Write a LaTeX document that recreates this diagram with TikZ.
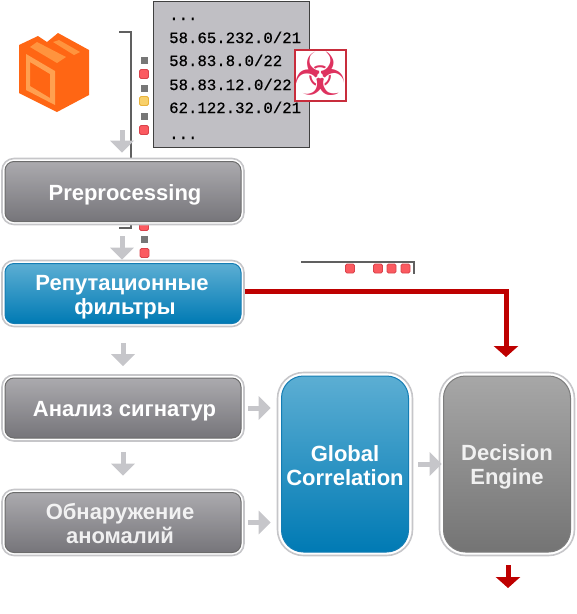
\documentclass[tikz,border=0pt]{standalone}
\usepackage{fontspec}
\setmainfont{Liberation Sans}
\newfontfamily\mymono[FakeBold=0.5]{Liberation Mono}
\newfontfamily\symfont{DejaVu Sans}
\usetikzlibrary{arrows.meta}
\definecolor{boxedge}{HTML}{C6C6C9}
\definecolor{darkred}{HTML}{BE0000}
\definecolor{arrowgray}{HTML}{C6C6CA}
\definecolor{listfill}{HTML}{C0BFC4}
\definecolor{sqred}{HTML}{FB5A60}
\definecolor{sqredb}{HTML}{D9434C}
\definecolor{sqyel}{HTML}{F8D06A}
\definecolor{sqyelb}{HTML}{E8B23C}
\definecolor{sqgray}{HTML}{777777}
\definecolor{cubebody}{HTML}{FF6614}
\definecolor{cubelid}{HTML}{FF943E}
\definecolor{cubepanel}{HTML}{FFA050}
\tikzset{
 outerbox/.style={draw=boxedge,fill=white,line width=1.6pt,rounded corners=#1,inner sep=0pt},
 outerbox/.default=12pt,
 label text/.style={text=white,font=\bfseries\fontsize{22}{24}\selectfont,align=center,inner sep=0pt},
 smallbox/.style={minimum width=236pt,minimum height=60pt,rounded corners=9pt,inner sep=0pt,line width=1pt},
 tallbox/.style={minimum width=127pt,minimum height=176pt,rounded corners=22pt,inner sep=0pt,line width=1pt},
 graybox/.style={smallbox,draw=gray!85!black,top color={rgb,255:red,171;green,170;blue,174},bottom color={rgb,255:red,118;green,117;blue,122}},
 bluebox/.style={draw={rgb,255:red,20;green,125;blue,180},top color={rgb,255:red,92;green,174;blue,211},bottom color={rgb,255:red,0;green,122;blue,180}},
 decibox/.style={draw={rgb,255:red,125;green,125;blue,125},top color={rgb,255:red,167;green,167;blue,167},bottom color={rgb,255:red,116;green,116;blue,116}},
 grayarrow/.style={draw=arrowgray,line width=5pt,-{Triangle[width=23pt,length=12pt]}},
 redarrow/.style={draw=darkred,line width=5pt,-{Triangle[width=24pt,length=11pt]}},
 pale/.style={text opacity=0.88},
 bracket/.style={draw=gray!75!black,line width=1.2pt},
 dotgray/.style={fill=sqgray,minimum size=7pt,inner sep=0pt},
 dotred/.style={draw=sqredb,fill=sqred,minimum size=9pt,inner sep=0pt,rounded corners=1.5pt,line width=0.8pt},
 dotyel/.style={draw=sqyelb,fill=sqyel,minimum size=9pt,inner sep=0pt,rounded corners=1.5pt,line width=0.8pt},
 listline/.style={font=\mymono\fontsize{15.7}{18}\selectfont,anchor=base west,inner sep=0pt},
}
\begin{document}
\begin{tikzpicture}[x=1pt,y=-1pt]
\useasboundingbox (0,0) rectangle (577,614);
% cube icon
\fill[cubebody] (19,45) -- (38,36) -- (47,42) -- (58,33) -- (89,50) -- (89,95) -- (57,112) -- (19,93) -- cycle;
\fill[cubelid] (30,47) -- (37,42) -- (66,57) -- (57,63) -- cycle;
\fill[cubelid] (53,42) -- (59,40) -- (80,52) -- (74,55) -- cycle;
\fill[cubepanel,even odd rule] (26,54) -- (55,71) -- (55,105) -- (26,90) -- cycle (30,62) -- (50,74) -- (50,98) -- (30,86) -- cycle;
% bracket behind the first box
\coordinate (brtop) at (119,32);
\coordinate (brcorner) at (131,32);
\coordinate (brbot) at (131,228);
\coordinate (brend) at (119,228);
\draw[bracket] (brtop) -- (brcorner) -- (brbot) -- (brend);
% address list
\node[draw=black!75,fill=listfill,line width=1pt,minimum width=156pt,minimum height=146pt,inner sep=0pt] (list) at (231.5,74) {};
\node[listline] (l0) at (169,20) {...};
\node[listline] (l1) at (169,43) {58.65.232.0/21};
\node[listline] (l2) at (169,66) {58.83.8.0/22};
\node[listline] (l3) at (169,90) {58.83.12.0/22};
\node[listline] (l4) at (169,113) {62.122.32.0/21};
\node[listline] (l5) at (169,139) {...};
% biohazard
\node[draw={rgb,255:red,200;green,45;blue,60},fill=white,line width=2pt,minimum size=51pt,inner sep=0pt] (bio) at (320,75) {};
\node[inner sep=0pt,text={rgb,255:red,222;green,50;blue,95},font=\symfont\fontsize{60}{60}\selectfont] (biosym) at (320,74) {☣};
% traffic squares
\node[dotgray] (a1) at (144,60) {};
\node[dotred] (a2) at (144,74) {};
\node[dotgray] (a3) at (144,88) {};
\node[dotyel] (a4) at (144,101) {};
\node[dotgray] (a5) at (144,116) {};
\node[dotred] (a6) at (144,130) {};
\node[dotred] (b1) at (144,226) {};
\node[dotgray] (b2) at (144,239) {};
\node[dotred] (b3) at (144.5,253) {};
% boxes
\node[outerbox,minimum width=242pt,minimum height=66pt] (preO) at (123,191.5) {};
\node[graybox] (pre) at (123,191.5) {};
\node[label text] (preT) at (125,194.5) {Preprocessing};
\node[outerbox,minimum width=242pt,minimum height=66pt] (repO) at (123,293.5) {};
\node[smallbox,bluebox] (rep) at (123,293.5) {};
\node[label text] (repT) at (122,297) {Репутационные\\\hspace*{6pt}фильтры};
\node[outerbox,minimum width=242pt,minimum height=66pt] (sigO) at (123,408) {};
\node[graybox] (sig) at (123,408) {};
\node[label text] (sigT) at (124.5,411.5) {Анализ сигнатур};
\node[outerbox,minimum width=242pt,minimum height=66pt] (anoO) at (123,522.5) {};
\node[graybox] (ano) at (123,522.5) {};
\node[label text,pale] (anoT) at (120,524) {Обнаружение\\аномалий};
\node[outerbox=26pt,minimum width=135pt,minimum height=183pt] (gloO) at (345,464) {};
\node[tallbox,bluebox] (glo) at (345,464) {};
\node[label text] (gloT) at (345,466) {Global\\Correlation};
\node[outerbox=26pt,minimum width=135pt,minimum height=183pt] (decO) at (507,464) {};
\node[tallbox,decibox] (dec) at (507,464) {};
\node[label text,pale] (decT) at (507,467) {Decision\\Engine};
% gray arrows
\coordinate (c0) at (122,130);
\draw[grayarrow] (c0) -- ([yshift=5pt]preO.north -| c0);
\draw[grayarrow] ([xshift=-1pt,yshift=-11pt]preO.south) -- ([xshift=-1pt]repO.north);
\draw[grayarrow] ([yshift=-16pt]repO.south) -- ([yshift=8pt]sigO.north);
\draw[grayarrow] ([yshift=-10pt]sigO.south) -- ([yshift=13pt]anoO.north);
\draw[grayarrow] ([xshift=3pt]sigO.east) -- ([xshift=-6pt]sigO.east -| gloO.west);
\draw[grayarrow] ([xshift=3pt]anoO.east) -- ([xshift=-6pt]anoO.east -| gloO.west);
\draw[grayarrow] ([xshift=5pt]gloO.east) -- ([xshift=3pt]gloO.east -| decO.west);
% red path
\coordinate (redcorner) at (506,291);
\coordinate (redend) at (506,357);
\draw[redarrow] ([yshift=2.5pt]repO.east) -- (redcorner) -- (redend);
\coordinate (out1) at (508,565);
\coordinate (out2) at (508,588);
\draw[redarrow] (out1) -- (out2);
% small bracket
\coordinate (sb1) at (301,262);
\coordinate (sb2) at (414,262);
\coordinate (sb3) at (414,274);
\draw[bracket] (sb1) -- (sb2) -- (sb3);
\node[dotred] (c1) at (350,268.5) {};
\node[dotred] (c2) at (378,268.5) {};
\node[dotred] (c3) at (391.5,268.5) {};
\node[dotred] (c4) at (405.5,268.5) {};
\end{tikzpicture}
\end{document}
